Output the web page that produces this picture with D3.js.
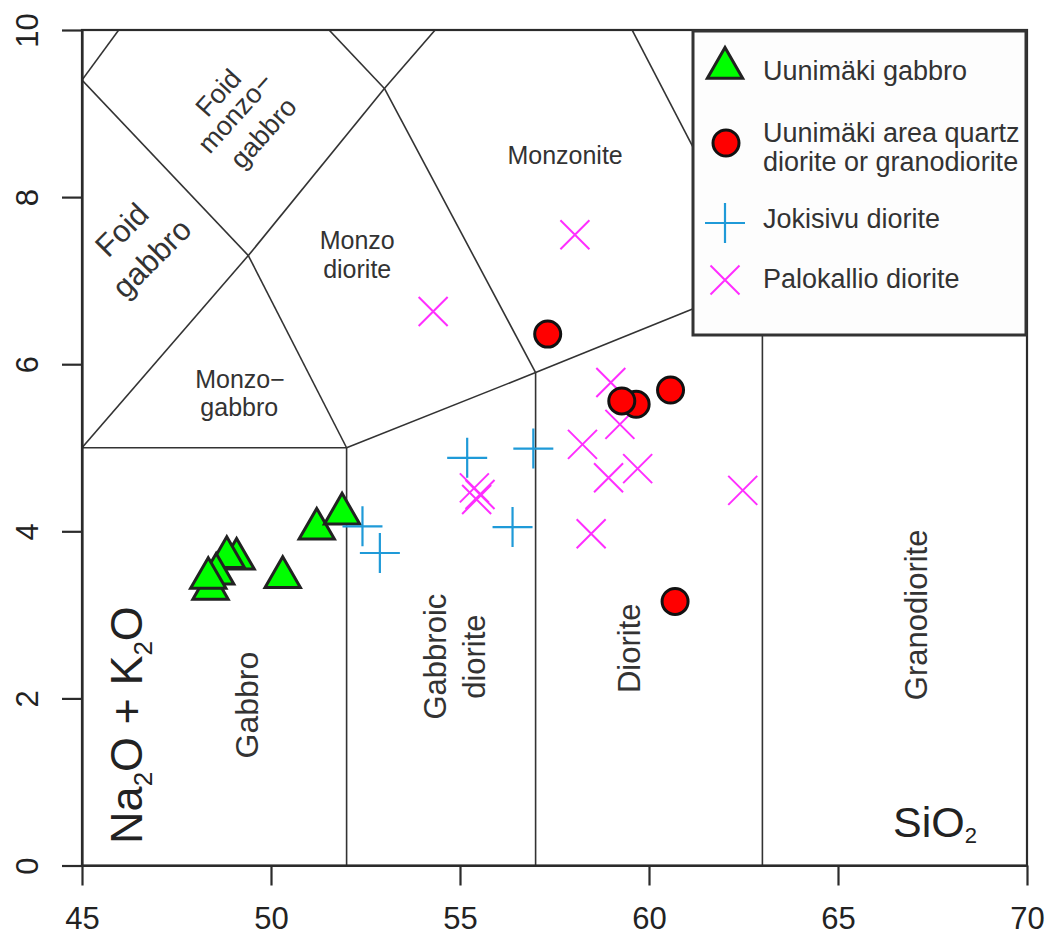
<!DOCTYPE html>
<html>
<head>
<meta charset="utf-8">
<script src="https://cdn.jsdelivr.net/npm/d3@7"></script>
<style>
  html, body { margin: 0; padding: 0; background: #ffffff; }
  svg { display: block; font-family: "Liberation Sans", Arial, Helvetica, sans-serif; }
</style>
</head>
<body>
<svg id="chart" width="1050" height="936"></svg>
<script>
// ---------------- data ----------------
const xTicks = [45, 50, 55, 60, 65, 70];
const yTicks = [0, 2, 4, 6, 8, 10];

// Uunimäki gabbro (SiO2, Na2O+K2O)
const gabbroSiO2 = [48.40, 49.09, 48.83, 48.55, 48.34, 50.31, 51.21, 51.88];
const gabbroAlk  = [3.31, 3.67, 3.69, 3.49, 3.44, 3.45, 4.03, 4.21];

// Uunimäki area quartz diorite or granodiorite
const qdSiO2 = [57.32, 59.66, 59.28, 60.57, 60.69];
const qdAlk  = [6.36, 5.52, 5.56, 5.69, 3.16];

// Jokisivu diorite
const jokSiO2 = [55.19, 56.94, 56.39, 52.88, 52.42];
const jokAlk  = [4.88, 4.99, 4.05, 3.74, 4.06];

// Palokallio diorite
const palSiO2 = [58.04, 54.29, 58.99, 59.23, 58.24, 58.93, 59.70, 58.47, 62.48, 55.38, 55.53, 55.44];
const palAlk  = [7.55, 6.63, 5.78, 5.28, 5.04, 4.64, 4.75, 3.97, 4.49, 4.52, 4.44, 4.38];

// Field boundaries (Middlemost plutonic TAS), segment end points
const boundaryFrom = [[52,0],[57,0],[63,0],[45,5],[52,5],[57,5.9],[45,5],[52,5],[49.4,7.3],[49.4,7.3],[53,9.3],[45,9.4],[53,9.3],[53,9.3],[57.6,11.7],[63,7]];
const boundaryTo   = [[52,5],[57,5.9],[63,7],[52,5],[57,5.9],[63,7],[49.4,7.3],[49.4,7.3],[45,9.4],[53,9.3],[57,5.9],[48.4,11.5],[48.4,11.5],[57.6,11.7],[63,7],[69,8]];

// Field names (lines, rotation, size) anchored in data space
const fieldLabels = [
  {lines: [["Foid", 46.05, 7.61], ["gabbro", 46.84, 7.27]], rot: -45, size: 31},
  {lines: [["Foid", 48.60, 9.25], ["monzo\u2212", 49.05, 9.01], ["gabbro", 49.79, 8.77]], rot: -48, size: 27},
  {lines: [["Monzo", 52.28, 7.48], ["diorite", 52.28, 7.14]], rot: 0, size: 25},
  {lines: [["Monzonite", 57.78, 8.50]], rot: 0, size: 25},
  {lines: [["Monzo\u2212", 49.18, 5.82], ["gabbro", 49.16, 5.48]], rot: 0, size: 25},
  {lines: [["Gabbro", 49.36, 1.92]], rot: -90, size: 32},
  {lines: [["Gabbroic", 54.34, 2.50], ["diorite", 55.37, 2.50]], rot: -90, size: 31},
  {lines: [["Diorite", 59.47, 2.60]], rot: -90, size: 31},
  {lines: [["Granodiorite", 67.06, 3.00]], rot: -90, size: 31}
];

const legendNames = ["Uunimäki gabbro", ["Uunimäki area quartz", "diorite or granodiorite"], "Jokisivu diorite", "Palokallio diorite"];

// ---------------- drawing ----------------
const svg = d3.select("#chart");
const x = d3.scaleLinear().domain([45, 70]).range([82, 1027]);
const y = d3.scaleLinear().domain([0, 10]).range([865.5, 30]);

const ink = "#2b2b2b";

svg.append("defs").append("clipPath").attr("id", "plotclip")
  .append("rect").attr("x", x(45)).attr("y", y(10)).attr("width", x(70) - x(45)).attr("height", y(0) - y(10));

// field boundaries
const gB = svg.append("g").attr("clip-path", "url(#plotclip)");
boundaryFrom.forEach((p, i) => {
  const q = boundaryTo[i];
  gB.append("line")
    .attr("x1", x(p[0])).attr("y1", y(p[1]))
    .attr("x2", x(q[0])).attr("y2", y(q[1]))
    .attr("stroke", "#333").attr("stroke-width", 1.6);
});

// field labels
fieldLabels.forEach(f => {
  f.lines.forEach(l => {
    const px = x(l[1]), py = y(l[2]);
    svg.append("text")
      .attr("transform", `translate(${px},${py}) rotate(${f.rot})`)
      .attr("text-anchor", "middle")
      .attr("dy", "0.35em")
      .attr("font-size", f.size)
      .attr("fill", "#333")
      .text(l[0]);
  });
});

// frame
svg.append("rect")
  .attr("x", x(45)).attr("y", y(10))
  .attr("width", x(70) - x(45)).attr("height", y(0) - y(10))
  .attr("fill", "none").attr("stroke", ink).attr("stroke-width", 2.2);

// axes
const xAxis = svg.append("g").attr("transform", `translate(0,${y(0)})`)
  .call(d3.axisBottom(x).tickValues(xTicks).tickSize(20).tickSizeOuter(0).tickFormat(d3.format("d")));
xAxis.select(".domain").attr("stroke", ink).attr("stroke-width", 2.2);
xAxis.selectAll(".tick line").attr("stroke", ink).attr("stroke-width", 2.2);
xAxis.selectAll(".tick text").attr("y", 63.5).attr("dy", 0)
  .attr("font-size", 31).attr("fill", "#222").attr("font-family", null);

const yAxis = svg.append("g").attr("transform", `translate(${x(45)},0)`)
  .call(d3.axisLeft(y).tickValues(yTicks).tickSize(20).tickSizeOuter(0).tickFormat(d3.format("d")));
yAxis.select(".domain").attr("stroke", ink).attr("stroke-width", 2.2);
yAxis.selectAll(".tick line").attr("stroke", ink).attr("stroke-width", 2.2);
yAxis.selectAll(".tick text")
  .attr("transform", "rotate(-90)")
  .attr("x", 0).attr("y", -44).attr("dy", 0)
  .attr("text-anchor", "middle")
  .attr("font-size", 31).attr("fill", "#222").attr("font-family", null);

// axis titles
const yt = svg.append("text")
  .attr("transform", "translate(142,725) rotate(-90)")
  .attr("text-anchor", "middle").attr("font-size", 45).attr("fill", "#222");
yt.append("tspan").text("Na");
yt.append("tspan").attr("font-size", 26).attr("dy", 10).text("2");
yt.append("tspan").attr("dy", -10).text("O + K");
yt.append("tspan").attr("font-size", 26).attr("dy", 10).text("2");
yt.append("tspan").attr("dy", -10).text("O");

const xt = svg.append("text")
  .attr("x", 893).attr("y", 837).attr("font-size", 43).attr("fill", "#222");
xt.append("tspan").text("SiO");
xt.append("tspan").attr("font-size", 22).attr("dy", 6).text("2");

// markers
const triSym = d3.symbol().type(d3.symbolTriangle).size(540);
function plusPath(a) { return `M${-a},0H${a}M0,${-a}V${a}`; }
function crossPath(a) { return `M${-a},${-a}L${a},${a}M${-a},${a}L${a},${-a}`; }

const gP = svg.append("g");
gabbroSiO2.forEach((v, i) => {
  gP.append("path").attr("d", triSym())
    .attr("transform", `translate(${x(v)},${y(gabbroAlk[i])})`)
    .attr("fill", "#00ff00").attr("stroke", "#222").attr("stroke-width", 3).attr("stroke-linejoin", "miter");
});
jokSiO2.forEach((v, i) => {
  gP.append("path").attr("d", plusPath(20))
    .attr("transform", `translate(${x(v)},${y(jokAlk[i])})`)
    .attr("fill", "none").attr("stroke", "#1f9ad8").attr("stroke-width", 2.2);
});
palSiO2.forEach((v, i) => {
  gP.append("path").attr("d", crossPath(14.5))
    .attr("transform", `translate(${x(v)},${y(palAlk[i])})`)
    .attr("fill", "none").attr("stroke", "#ff2eff").attr("stroke-width", 2);
});
qdSiO2.forEach((v, i) => {
  gP.append("circle").attr("cx", x(v)).attr("cy", y(qdAlk[i])).attr("r", 13)
    .attr("fill", "#ff0000").attr("stroke", "#111").attr("stroke-width", 3);
});

// legend
const lg = svg.append("g");
lg.append("rect").attr("x", 693).attr("y", 31).attr("width", 333).attr("height", 304)
  .attr("fill", "#fdfdfd").attr("stroke", "#333").attr("stroke-width", 3);
lg.append("path").attr("d", triSym()).attr("transform", "translate(725,68)")
  .attr("fill", "#00ff00").attr("stroke", "#222").attr("stroke-width", 3);
lg.append("circle").attr("cx", 726).attr("cy", 143).attr("r", 13)
  .attr("fill", "#ff0000").attr("stroke", "#111").attr("stroke-width", 3);
lg.append("path").attr("d", plusPath(20)).attr("transform", "translate(725,223)")
  .attr("fill", "none").attr("stroke", "#1f9ad8").attr("stroke-width", 2.2);
lg.append("path").attr("d", crossPath(14.5)).attr("transform", "translate(725,280)")
  .attr("fill", "none").attr("stroke", "#ff2eff").attr("stroke-width", 2);

const legendBaselines = [[80], [142, 171], [228], [288]];
legendNames.forEach((n, i) => {
  const lines = Array.isArray(n) ? n : [n];
  lines.forEach((t, j) => {
    lg.append("text").attr("x", 763).attr("y", legendBaselines[i][j])
      .attr("font-size", 27).attr("fill", "#333").text(t);
  });
});
</script>
</body>
</html>
